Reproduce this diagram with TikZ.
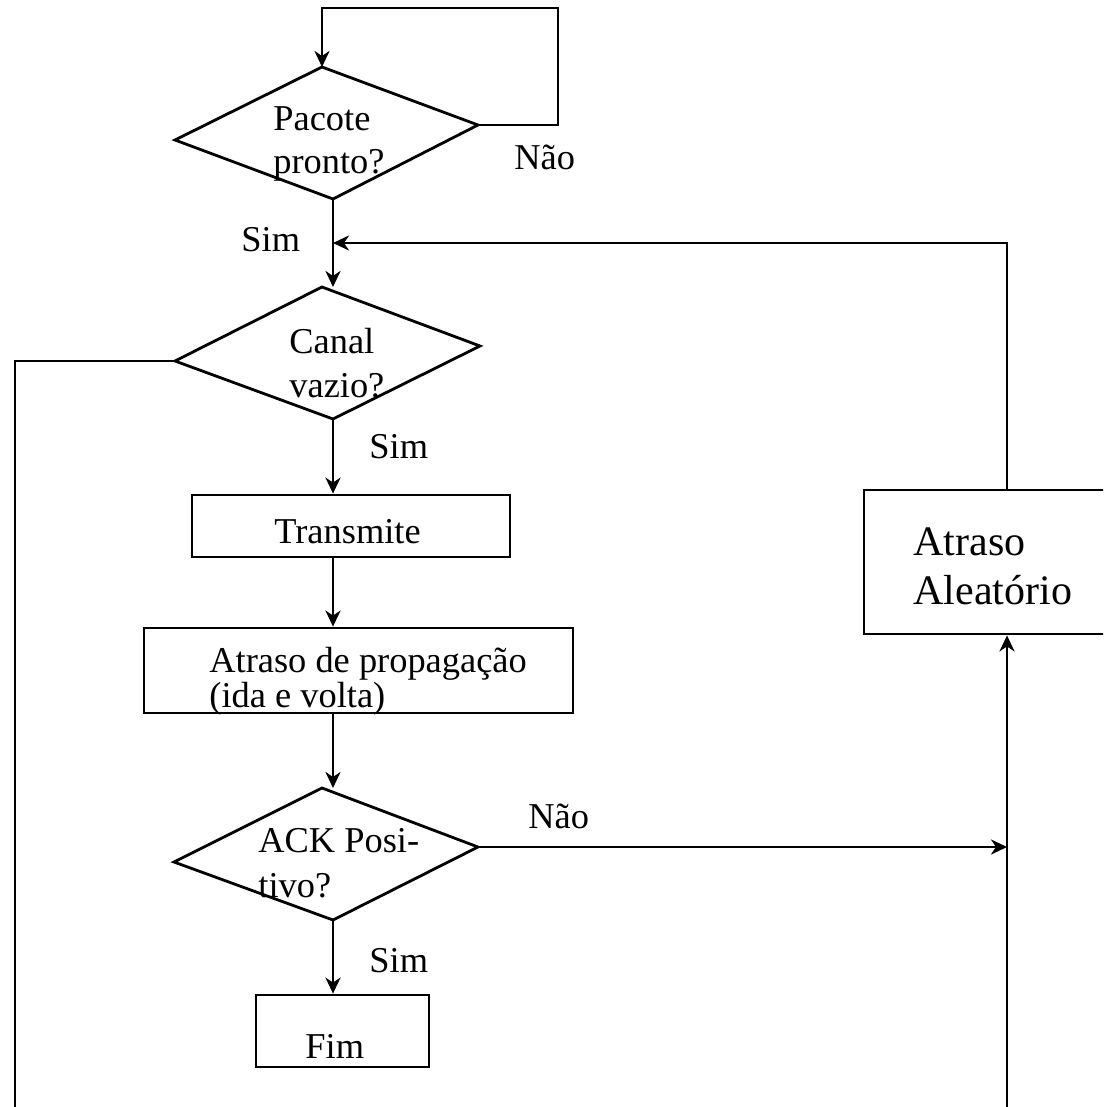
\documentclass[tikz,border=0pt]{standalone}
\usepackage{fontspec}
\setmainfont{Liberation Serif}
\usetikzlibrary{arrows.meta,fit}
\begin{document}
\begin{tikzpicture}[x=0.5pt,y=-0.5pt,
  line width=1.4pt,
  arr/.style={-{Stealth[length=8pt,width=7.5pt,inset=2.5pt]}},
  txt/.style={inner sep=0pt,anchor=base west,font=\fontsize{18.2}{21.8}\selectfont},
  bigtxt/.style={inner sep=0pt,anchor=base west,font=\fontsize{21}{25}\selectfont},
  box/.style={draw,line width=1.4pt,inner sep=0pt}]
\useasboundingbox (0,0) rectangle (1103,1107);
\clip (0,0) rectangle (1103,1107);

% decision diamonds (vertices)
\coordinate (d1t) at (322,67);  \coordinate (d1r) at (478,125);
\coordinate (d1b) at (333,199); \coordinate (d1l) at (175,140);
\coordinate (d2t) at (322,287); \coordinate (d2r) at (480,346);
\coordinate (d2b) at (333,419); \coordinate (d2l) at (175,361);
\coordinate (d3t) at (322,788); \coordinate (d3r) at (478,847);
\coordinate (d3b) at (333,920); \coordinate (d3l) at (174,862);
\draw (d1t) -- (d1r) -- (d1b) -- (d1l) -- cycle;
\draw (d2t) -- (d2r) -- (d2b) -- (d2l) -- cycle;
\draw (d3t) -- (d3r) -- (d3b) -- (d3l) -- cycle;

\node[txt] (pacote) at (272,131) {Pacote};
\node[txt] (pronto) at (272,174) {pronto?};
\node[txt] (canal) at (288,353) {Canal};
\node[txt] (vazio) at (288,397) {vazio?};
\node[txt] (ack) at (257,852) {ACK Posi-};
\node[txt] (tivo) at (257,897) {tivo?};

% process boxes
\node[box, fit={(192,495) (510,557)}] (transmite) {};
\node[txt] (transmiteTxt) at (273,543) {Transmite};
\node[box, fit={(144,628) (573,713)}] (propag) {};
\node[txt] (propagA) at (208,672) {Atraso de propagação};
\node[txt] (propagB) at (208,707) {(ida e volta)};
\node[box, fit={(256,995) (429,1067)}] (fim) {};
\node[txt] (fimTxt) at (304,1058) {Fim};
\node[box, fit={(864,490) (1112,634)}] (aleat) {};
\node[bigtxt] (aleatA) at (912,555) {Atraso};
\node[bigtxt] (aleatB) at (912,604) {Aleatório};

% branch labels
\node[txt] (nao1) at (513,170) {Não};
\node[txt] (sim1) at (240,251) {Sim};
\node[txt] (sim2) at (368,458) {Sim};
\node[txt] (nao2) at (527,828) {Não};
\node[txt] (sim3) at (368,972) {Sim};

% connectors
\coordinate (loop) at (558,8);
\coordinate (ret) at (1007,243);
\coordinate (leftEnd) at (15,1112);
\coordinate (rightEnd) at (1007,1112);

\draw[arr] (d1r) -| (loop) -| (d1t);
\draw[arr] (d1b) -- (d1b |- d2t);
\draw[arr] (aleat.north -| ret) -- (ret) -- (ret -| d1b);
\draw (d2l) -| (leftEnd);
\draw[arr] (d2b) -- (d2b |- transmite.north);
\draw[arr] (transmite.south -| d2b) -- (propag.north -| d2b);
\draw[arr] (propag.south -| d3b) -- (d3b |- d3t);
\draw[arr] (d3r) -- (d3r -| rightEnd);
\draw[arr] (rightEnd) -- (rightEnd |- aleat.south);
\draw[arr] (d3b) -- (d3b |- fim.north);
\end{tikzpicture}
\end{document}
